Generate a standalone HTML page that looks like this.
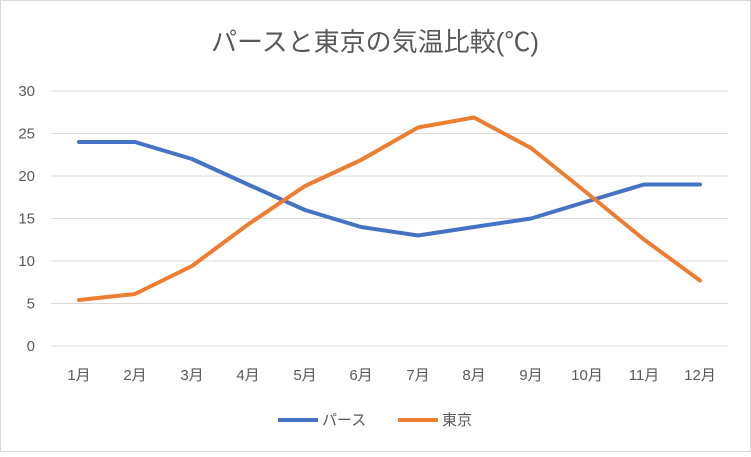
<!DOCTYPE html>
<html><head><meta charset="utf-8"><style>
body{margin:0;background:#fff}
</style></head><body>
<svg width="751" height="452" xmlns="http://www.w3.org/2000/svg" font-family="'Liberation Sans','Noto Sans CJK JP',sans-serif">
<rect x="0.5" y="0.5" width="750" height="451" fill="#fff" stroke="#d9d9d9"/>
<text x="375" y="51" text-anchor="middle" font-size="26" fill="#595959">パースと東京の気温比較(℃)</text>
<g stroke="#d9d9d9" stroke-width="1">
<line x1="51" x2="728" y1="91" y2="91"/><line x1="51" x2="728" y1="133.5" y2="133.5"/>
<line x1="51" x2="728" y1="176" y2="176"/><line x1="51" x2="728" y1="218.5" y2="218.5"/>
<line x1="51" x2="728" y1="261" y2="261"/><line x1="51" x2="728" y1="303.5" y2="303.5"/>
<line x1="51" x2="728" y1="346" y2="346"/>
</g>
<g font-size="15" fill="#595959" text-anchor="end">
<text x="35" y="96">30</text><text x="35" y="138.5">25</text><text x="35" y="181">20</text>
<text x="35" y="223.5">15</text><text x="35" y="266">10</text><text x="35" y="308.5">5</text><text x="35" y="351">0</text>
</g>
<g font-size="15" fill="#595959" text-anchor="middle">
<text x="79" y="380">1月</text><text x="135" y="380">2月</text><text x="192" y="380">3月</text>
<text x="248" y="380">4月</text><text x="305" y="380">5月</text><text x="361" y="380">6月</text>
<text x="418" y="380">7月</text><text x="474" y="380">8月</text><text x="531" y="380">9月</text>
<text x="587" y="380">10月</text><text x="644" y="380">11月</text><text x="700" y="380">12月</text>
</g>
<polyline fill="none" stroke="#4472c4" stroke-width="4" stroke-linejoin="round" stroke-linecap="round"
points="79,142 135,142 192,159 248,184.5 305,210 361,227 418,235.5 474,227 531,218.5 587,201.5 644,184.5 700,184.5"/>
<polyline fill="none" stroke="#ed7d31" stroke-width="4" stroke-linejoin="round" stroke-linecap="round"
points="79,300 135,294 192,266 248,224.5 305,186 361,160 418,127.5 474,117.5 531,148 587,193 644,239.5 700,280.5"/>
<line x1="278" x2="318" y1="420" y2="420" stroke="#4472c4" stroke-width="4"/>
<text x="322" y="425" font-size="15" fill="#595959">パース</text>
<line x1="398" x2="438" y1="420" y2="420" stroke="#ed7d31" stroke-width="4"/>
<text x="442" y="425" font-size="15" fill="#595959">東京</text>
</svg>
</body></html>
